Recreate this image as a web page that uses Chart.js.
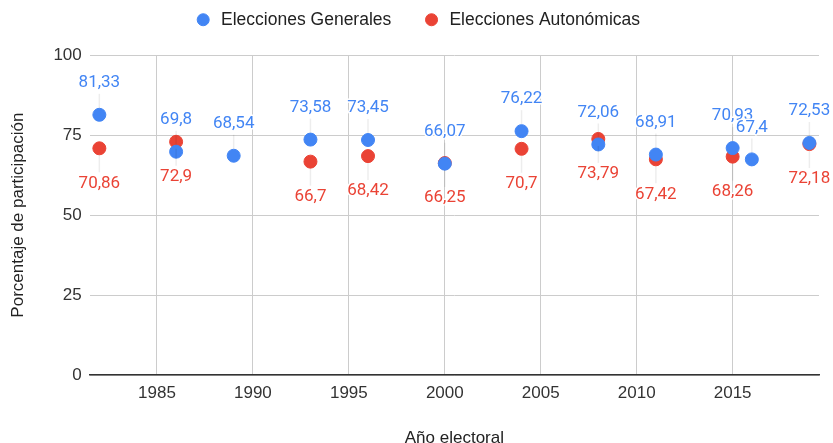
<!DOCTYPE html>
<html>
<head>
<meta charset="utf-8">
<script src="https://cdn.jsdelivr.net/npm/chart.js@4.4.1/dist/chart.umd.min.js"></script>
<style>
  html, body { margin: 0; padding: 0; background: #fff; }
  #wrap { width: 833px; height: 443px; }
</style>
</head>
<body>
<div id="wrap"><canvas id="myChart"></canvas></div>
<script>
// Datos: participación electoral
const añosGenerales = [1982, 1986, 1989, 1993, 1996, 2000, 2004, 2008, 2011, 2015, 2016, 2019];
const valoresGenerales = [81.33, 69.8, 68.54, 73.58, 73.45, 66.07, 76.22, 72.06, 68.91, 70.93, 67.4, 72.53];

const añosAutonomicas = [1982, 1986, 1993, 1996, 2000, 2004, 2008, 2011, 2015, 2019];
const valoresAutonomicas = [70.86, 72.9, 66.7, 68.42, 66.25, 70.7, 73.79, 67.42, 68.26, 72.18];

const ticksX = [1985, 1990, 1995, 2000, 2005, 2010, 2015];
const ticksY = [0, 25, 50, 75, 100];

const azul = '#4285f4';
const rojo = '#ea4335';
const fuente = 'Liberation Sans, Arial, sans-serif';

function toPoints(xs, ys) {
    return xs.map((x, i) => ({ x: x, y: ys[i] }));
}

// Etiquetas de datos con línea guía (arriba para generales, abajo para autonómicas)
const etiquetasPlugin = {
    id: 'etiquetas',
    afterDatasetsDraw(chart) {
        const ctx = chart.ctx;
        ctx.save();
        ctx.font = '17px Roboto';
        ctx.textAlign = 'center';
        ctx.textBaseline = 'middle';
        chart.data.datasets.forEach((ds, di) => {
            const meta = chart.getDatasetMeta(di);
            const arriba = di === 0;
            meta.data.forEach((el, i) => {
                const x = el.x, y = el.y;
                const texto = ds.data[i].y.toString().replace('.', ',');
                const ty = arriba ? y - 32 : y + 35;
                // línea guía
                ctx.strokeStyle = 'rgba(0,0,0,0.07)';
                ctx.lineWidth = 1.5;
                ctx.beginPath();
                if (arriba) {
                    ctx.moveTo(x, ty + 11);
                    ctx.lineTo(x, y - 7);
                } else {
                    ctx.moveTo(x, y + 7);
                    ctx.lineTo(x, ty - 11);
                }
                ctx.stroke();
                // halo blanco
                ctx.lineWidth = 3;
                ctx.strokeStyle = '#fff';
                ctx.lineJoin = 'round';
                ctx.strokeText(texto, x, ty);
                ctx.fillStyle = ds.backgroundColor;
                ctx.fillText(texto, x, ty);
            });
        });
        ctx.restore();
    }
};

// Ajusta el alto y la posición de la leyenda
const ajusteLeyenda = {
    id: 'ajusteLeyenda',
    beforeInit(chart) {
        const fitOriginal = chart.legend.fit;
        chart.legend.fit = function() {
            fitOriginal.bind(chart.legend)();
            this.height = 80;
        };
    },
    afterLayout(chart) {
        chart.legend.left += 6;
        chart.legend.right += 6;
    }
};

const ctx = document.getElementById('myChart').getContext('2d');
new Chart(ctx, {
    type: 'scatter',
    data: {
        datasets: [
            {
                label: 'Elecciones Generales',
                data: toPoints(añosGenerales, valoresGenerales),
                backgroundColor: azul,
                borderColor: azul,
                pointRadius: 6.5,
                pointHoverRadius: 6.5
            },
            {
                label: 'Elecciones Autonómicas',
                data: toPoints(añosAutonomicas, valoresAutonomicas),
                backgroundColor: rojo,
                borderColor: rojo,
                pointRadius: 6.5,
                pointHoverRadius: 6.5
            }
        ]
    },
    options: {
        responsive: true,
        maintainAspectRatio: false,
        animation: false,
        layout: {
            padding: { left: 8, right: 14, top: -25, bottom: -6 }
        },
        scales: {
            x: {
                type: 'linear',
                min: 1981.5,
                max: 2019.5,
                afterBuildTicks: axis => {
                    axis.ticks = ticksX.map(v => ({ value: v }));
                },
                ticks: {
                    color: '#333',
                    font: { family: fuente, size: 17 },
                    padding: 8,
                    callback: v => String(v)
                },
                grid: {
                    color: '#cccccc',
                    lineWidth: 1,
                    drawTicks: false
                },
                border: { display: true, color: '#333', width: 1.5 },
                title: {
                    display: true,
                    text: 'Año electoral',
                    color: '#222',
                    font: { family: fuente, size: 17 },
                    padding: { top: 17, bottom: 0 }
                }
            },
            y: {
                min: 0,
                max: 100,
                afterBuildTicks: axis => {
                    axis.ticks = ticksY.map(v => ({ value: v }));
                },
                ticks: {
                    color: '#333',
                    font: { family: fuente, size: 17 },
                    padding: 8
                },
                grid: {
                    color: '#cccccc',
                    lineWidth: 1,
                    drawTicks: false
                },
                border: { display: false },
                title: {
                    display: true,
                    text: 'Porcentaje de participación',
                    color: '#222',
                    font: { family: fuente, size: 17 },
                    padding: { top: 0, bottom: 17 }
                }
            }
        },
        plugins: {
            legend: {
                position: 'top',
                labels: {
                    usePointStyle: true,
                    pointStyle: 'circle',
                    boxWidth: 8.5,
                    boxHeight: 8.5,
                    color: '#222',
                    padding: 36,
                    font: { family: fuente, size: 17.5 },
                    generateLabels: chart => {
                        const items = Chart.defaults.plugins.legend.labels.generateLabels(chart);
                        items.forEach(it => { it.text = ' ' + it.text; });
                        return items;
                    }
                }
            },
            tooltip: { enabled: false }
        }
    },
    plugins: [etiquetasPlugin, ajusteLeyenda]
});
</script>
</body>
</html>
